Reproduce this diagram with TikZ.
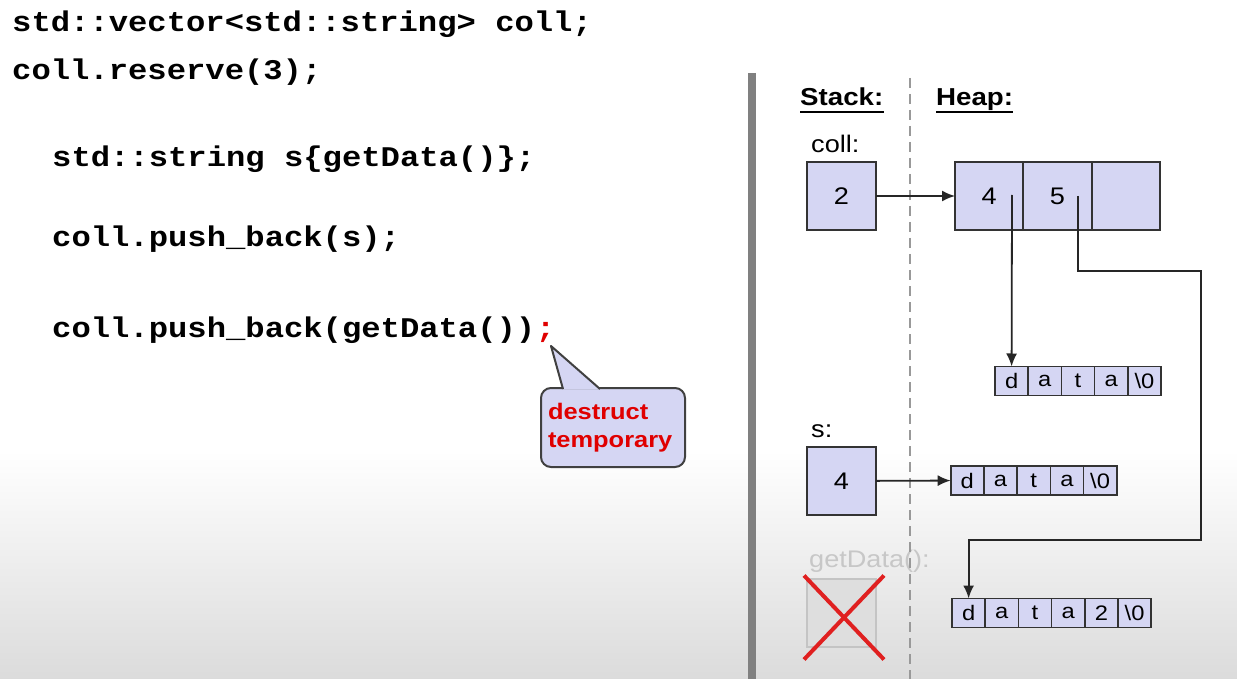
\documentclass[tikz,border=0pt]{standalone}
\usepackage{fontspec}
\setmainfont[FakeStretch=1.13]{Liberation Sans}
\newfontfamily\codefont[FakeStretch=1.13]{Liberation Mono}
\usetikzlibrary{positioning,calc,arrows.meta}
\definecolor{cellfill}{HTML}{D5D6F3}
\definecolor{boxline}{HTML}{333333}
\definecolor{deadfill}{HTML}{DEDEDE}
\definecolor{deadline}{HTML}{C4C4C4}
\definecolor{crossred}{HTML}{E02020}
\definecolor{codered}{HTML}{E00000}
\tikzstyle{cell} = [draw=boxline, line width=2pt, fill=cellfill, minimum width=69pt, minimum height=68pt, inner sep=0pt, outer sep=0pt, font=\fontsize{24}{28}\selectfont]
\tikzstyle{chr} = [draw=boxline, line width=1.6pt, fill=cellfill, minimum width=33.2pt, minimum height=29pt, inner sep=0pt, outer sep=0pt, font=\fontsize{21}{24}\selectfont]
\tikzstyle{code} = [anchor=base west, inner sep=0pt, font=\codefont\bfseries\fontsize{28.5}{32}\selectfont]
\tikzstyle{lbl} = [anchor=base west, inner sep=0pt, font=\fontsize{24}{28}\selectfont]
\tikzstyle{ptr} = [->, line width=1.8pt, draw=black!85]
\tikzstyle{note} = [draw=black!75, line width=2pt, fill=cellfill, rounded corners=10pt, text width=130pt, minimum height=79pt, inner sep=7pt, outer sep=0pt, align=left, text=codered, font=\bfseries\fontsize{22.5}{28}\selectfont]

\begin{document}
\begin{tikzpicture}[x=1pt,y=-1pt,>={Latex[length=13pt,width=11pt]}]

  \useasboundingbox (0,0) rectangle (1237,679);
  \fill[white] (0,0) rectangle (1237,679);
  \shade[top color=white, bottom color=black!14] (0,450) rectangle (1237,679);

  % code
  \node[code] (c1) at (12,32) {std::vector<std::string> coll;};
  \node[code] (c2) at (12,80) {coll.reserve(3);};
  \node[code] (c3) at (52,167) {std::string s\{getData()\};};
  \node[code] (c4) at (52,247) {coll.push\_back(s);};
  \node[code] (c5) at (52,337) {coll.push\_back(getData())};
  \node[code, text=codered] (semi) at (c5.base east) {;};

  % callout
  \node[note] (tmp) at (613,427.5) {destruct\\temporary};
  \coordinate (tip) at (551,346);
  \fill[cellfill] ($(tmp.north west)+(22,1)$) -- (tip) -- ($(tmp.north west)+(59,1)$) -- cycle;
  \draw[black!75, line width=2pt, line join=round] ($(tmp.north west)+(22,1)$) -- (tip) -- ($(tmp.north west)+(59,1)$);

  % stack
  \node[lbl, font=\bfseries\fontsize{24.5}{28}\selectfont] (stack) at (800,106) {Stack:};
  \node[lbl, font=\bfseries\fontsize{24.5}{28}\selectfont] (heap) at (936,106) {Heap:};
  \draw[line width=2pt] ([yshift=-6pt]stack.base west) -- ([yshift=-6pt]stack.base east);
  \draw[line width=2pt] ([yshift=-6pt]heap.base west) -- ([yshift=-6pt]heap.base east);

  \node[lbl] (lcoll) at (811,153) {coll:};
  \node[cell] (coll) at (841.5,196) {2};
  \node[lbl] (ls) at (811,437) {s:};
  \node[cell] (s) at (841.5,481) {4};
  \node[lbl, text=black!22] (lgd) at (809,567) {getData():};
  \node[cell, draw=deadline, fill=deadfill] (gd) at (841.5,612.5) {};
  \draw[crossred, line width=4pt] ($(gd.north west)+(-3,-3)$) -- ($(gd.south east)+(8,13)$);
  \draw[crossred, line width=4pt] ($(gd.north east)+(8,-3)$) -- ($(gd.south west)+(-3,13)$);

  % heap
  \node[cell, minimum width=68.3pt] (h1) at (989.2,196) {4};
  \node[cell, minimum width=68.3pt] (h2) [right=0pt of h1] {5};
  \node[cell, minimum width=68.3pt] (h3) [right=0pt of h2] {};

  \node[chr] (sa1) at (1011.6,381) {d};
  \node[chr] (sa2) [right=0pt of sa1] {a};
  \node[chr] (sa3) [right=0pt of sa2] {t};
  \node[chr] (sa4) [right=0pt of sa3] {a};
  \node[chr] (sa5) [right=0pt of sa4] {\textbackslash 0};

  \node[chr] (sb1) at (967.3,480.5) {d};
  \node[chr] (sb2) [right=0pt of sb1] {a};
  \node[chr] (sb3) [right=0pt of sb2] {t};
  \node[chr] (sb4) [right=0pt of sb3] {a};
  \node[chr] (sb5) [right=0pt of sb4] {\textbackslash 0};

  \node[chr] (sc1) at (968.6,613) {d};
  \node[chr] (sc2) [right=0pt of sc1] {a};
  \node[chr] (sc3) [right=0pt of sc2] {t};
  \node[chr] (sc4) [right=0pt of sc3] {a};
  \node[chr] (sc5) [right=0pt of sc4] {2};
  \node[chr] (sc6) [right=0pt of sc5] {\textbackslash 0};

  % separators
  \draw[black!50, line width=8pt] (752,73) -- (752,679);
  \draw[black!40, line width=2pt, dash pattern=on 10pt off 6pt] (910,78) -- (910,679);

  % pointers
  \coordinate (p4) at (1012,195);
  \coordinate (p5) at (1078,196);
  \draw[ptr] (coll) -- (h1);
  \draw[ptr] (s) -- (sb1);
  \draw[ptr] (p4) -- (sa1.north);
  \draw[ptr] (p5) |- (1201,271) -- (1201,540) -| (sc1.north);

\end{tikzpicture}
\end{document}
